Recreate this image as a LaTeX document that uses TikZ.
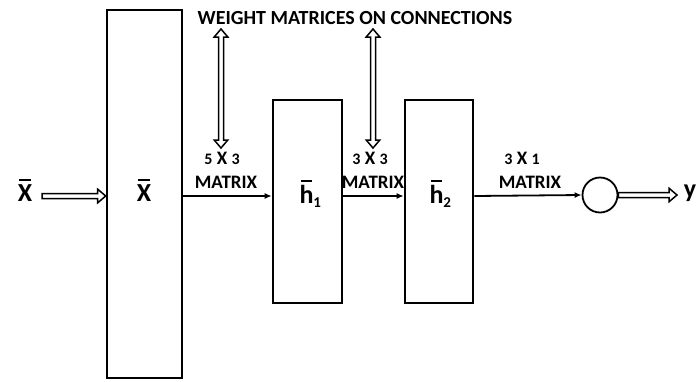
\documentclass[tikz,border=0pt]{standalone}
\usepackage{fontspec}
\setmainfont{Carlito}
\usetikzlibrary{arrows.meta, calc}
\newcommand{\smalldig}[1]{{\fontsize{16}{18}\selectfont #1}}
\newcommand{\barred}[1]{\leavevmode\setbox0\hbox{#1}%
  \vbox{\offinterlineskip\hbox to\wd0{\hfil\rule{0.8\wd0}{2.4pt}\hfil}\kern2.8pt\box0}}

\begin{document}
\begin{tikzpicture}[
          x=1pt, y=-1pt,
          layer/.style={rectangle, draw=black, line width=2.6pt,
                        inner sep=0pt, text centered},
          unit/.style={circle, draw=black, line width=1.8pt,
                       minimum size=35pt, inner sep=0pt},
          link/.style={line width=1.8pt, -{Latex[length=7pt,width=6pt]}},
          hollow/.style={line width=1.5pt, line join=miter, to path={
            let \p1=(\tikztostart), \p2=(\tikztotarget),
                \n1={atan2(\y2-\y1,\x2-\x1)}, \n2={veclen(\x2-\x1,\y2-\y1)} in
            [shift={(\p1)}, rotate=\n1]
            (0pt,-2.5pt) -- ({\n2-8pt},-2.5pt) -- ({\n2-8pt},-6.8pt) -- (\n2,0pt)
            -- ({\n2-8pt},6.8pt) -- ({\n2-8pt},2.5pt) -- (0pt,2.5pt) -- cycle}},
          hollowtwo/.style={line width=1.5pt, line join=miter, to path={
            let \p1=(\tikztostart), \p2=(\tikztotarget),
                \n1={atan2(\y2-\y1,\x2-\x1)}, \n2={veclen(\x2-\x1,\y2-\y1)} in
            [shift={(\p1)}, rotate=\n1]
            (8pt,-2.5pt) -- ({\n2-8pt},-2.5pt) -- ({\n2-8pt},-6.8pt) -- (\n2,0pt)
            -- ({\n2-8pt},6.8pt) -- ({\n2-8pt},2.5pt) -- (8pt,2.5pt)
            -- (8pt,6.8pt) -- (0pt,0pt) -- (8pt,-6.8pt) -- cycle}},
          dims/.style={font=\fontsize{19}{21}\selectfont\bfseries},
          big/.style={font=\fontsize{26}{28}\selectfont\bfseries}
        ]
          \useasboundingbox (0,0) rectangle (696,381);
          % layers
          \node[layer, minimum width=75pt, minimum height=368pt] (xin) at (144.5,194) {};
          \node[layer, minimum width=69pt, minimum height=203pt] (h1) at (307.5,201.5) {};
          \node[layer, minimum width=68pt, minimum height=203pt] (h2) at (439,201.5) {};
          \node[unit] (out) at (600,195) {};
          % labels
          \node[big] (xlab) at (25,190) {\barred{X}};
          \node[big] (xbox) at (144,190) {\barred{X}};
          \node[big, anchor=base west] (h1lab) at (296,203) {\barred{h}\raisebox{-4pt}{\fontsize{15}{17}\selectfont 1}};
          \node[big, anchor=base west] (h2lab) at (426,203) {\barred{h}\raisebox{-4pt}{\fontsize{15}{17}\selectfont 2}};
          \node[big] (ylab) at (690,193) {y};
          \node[dims, font=\fontsize{20}{22}\selectfont\bfseries] (title) at (355,18) {WEIGHT MATRICES ON CONNECTIONS};
          \node[dims] (d1) at (222,158) {\smalldig{5} X \smalldig{3}};
          \node[dims] (m1) at (226,182) {MATRIX};
          \node[dims] (d2) at (370,158) {\smalldig{3} X \smalldig{3}};
          \node[dims] (m2) at (373,182) {MATRIX};
          \node[dims] (d3) at (522,158) {\smalldig{3} X \smalldig{1}};
          \node[dims] (m3) at (530,182) {MATRIX};
          \coordinate (xs) at (42,196);
          \coordinate (yend) at (677,195);
          \coordinate (w1top) at (221,29);
          \coordinate (w1bot) at (221,148);
          \coordinate (w2top) at (373,29);
          \coordinate (w2bot) at (373,148);
          % connections
          \draw[hollow] (xs) to (xs -| xin.west);
          \draw[link] (xin.east |- 0,196) -- (h1.west |- 0,196);
          \draw[link] (h1.east |- 0,196) -- (h2.west |- 0,196);
          \draw[link] (h2.east |- 0,196) -- (out.west);
          \draw[hollow] (out.east) to (yend);
          \draw[hollowtwo] (w1top) to (w1bot);
          \draw[hollowtwo] (w2top) to (w2bot);
        \end{tikzpicture}
\end{document}
